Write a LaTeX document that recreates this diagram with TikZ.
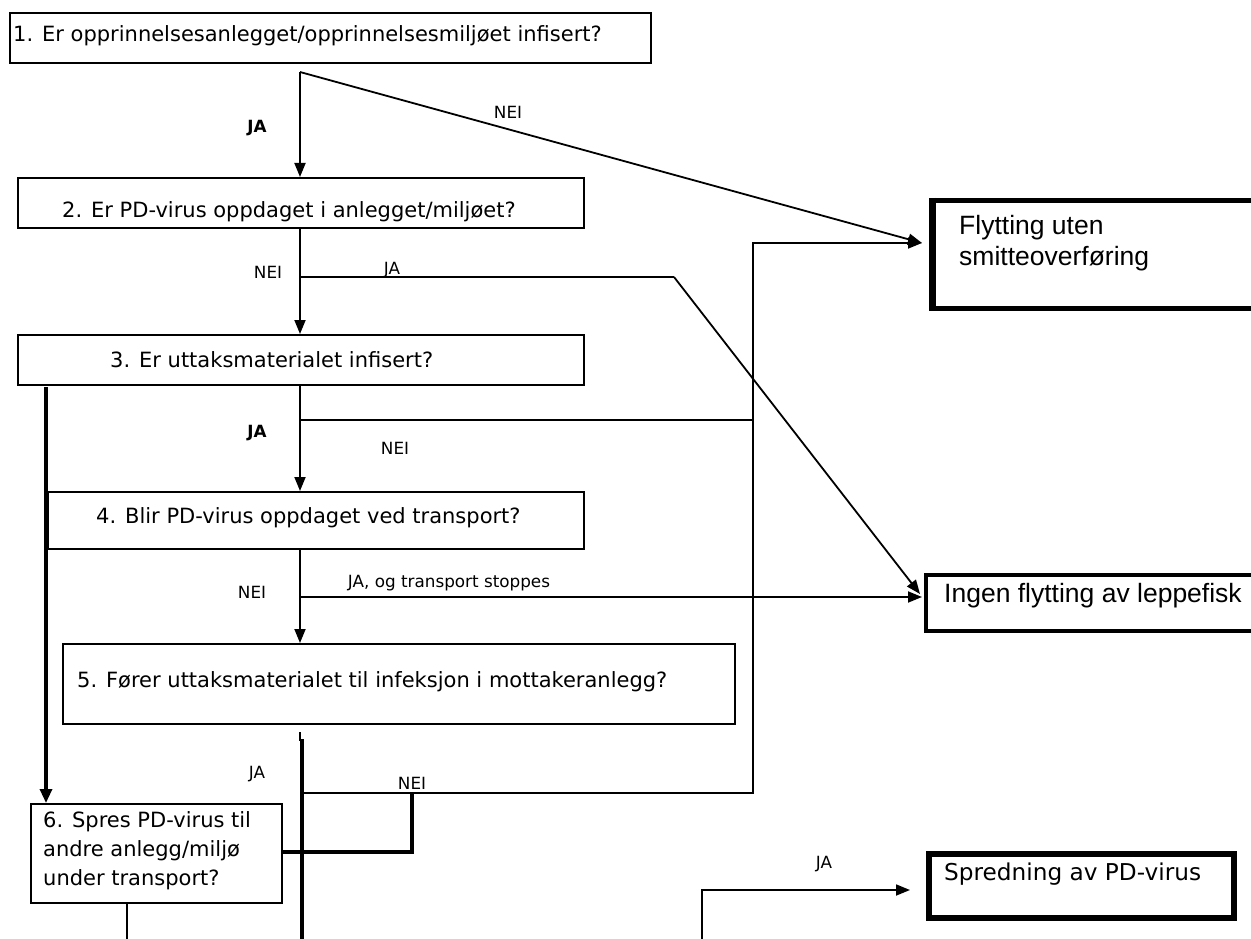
\documentclass[tikz,border=0pt]{standalone}
\usepackage{fontspec}
\setmainfont{DejaVu Sans}
\newfontfamily\arialfont{Liberation Sans}
\usetikzlibrary{arrows.meta}
\tikzset{
  box/.style={draw, line width=1.8pt, inner sep=0pt, anchor=north west},
  qtext/.style={inner sep=0pt, anchor=west, font=\fontsize{21}{25}\selectfont},
  lbl/.style={inner sep=0pt, font=\fontsize{16.8}{20}\selectfont},
  blbl/.style={inner sep=0pt, font=\fontsize{16.8}{20}\selectfont\bfseries},
  conn/.style={line width=1.8pt},
  thickconn/.style={line width=3.2pt},
  arr/.style={conn, -{Triangle[length=14pt,width=11pt]}},
  thickarr/.style={thickconn, -{Triangle[length=14pt,width=12pt]}},
}
\begin{document}
\begin{tikzpicture}[x=1pt,y=-1pt]
\useasboundingbox (0,0) rectangle (1251,939);
\clip (0,0) rectangle (1251,939);
% boxes
\node[box, minimum width=641, minimum height=50] (q1) at (9,12) {};
\node[box, minimum width=566, minimum height=50] (q2) at (17,177) {};
\node[box, minimum width=566, minimum height=50] (q3) at (17,334) {};
\node[box, minimum width=536, minimum height=57] (q4) at (47,491) {};
\node[box, minimum width=672, minimum height=80] (q5) at (62,643) {};
\node[box, minimum width=251, minimum height=99] (q6) at (30,803) {};
\node[box, line width=4.5pt, minimum width=343, minimum height=108] (fl) at (929,198) {};
\node[box, line width=3.5pt, minimum width=348, minimum height=56] (ing) at (924,573) {};
\node[box, line width=6pt, minimum width=305, minimum height=64] (spr) at (926,851) {};
\draw[line width=1.4pt] (fl.north west) ++(6,0) coordinate (flA) -- (flA |- fl.south);
% texts
\node[qtext] (t1) at (13,36) {1. Er opprinnelsesanlegget/opprinnelsesmiljøet infisert?};
\node[qtext] (t2) at (62,212) {2. Er PD-virus oppdaget i anlegget/miljøet?};
\node[qtext] (t3) at (110,360) {3. Er uttaksmaterialet infisert?};
\node[qtext] (t4) at (96,518) {4. Blir PD-virus oppdaget ved transport?};
\node[qtext] (t5) at (77,682) {5. Fører uttaksmaterialet til infeksjon i mottakeranlegg?};
\node[qtext, align=left, font=\fontsize{21}{29}\selectfont] (t6) at (43,851) {6. Spres PD-virus til\\andre anlegg/miljø\\under transport?};
\node[inner sep=0pt, anchor=west, align=left, font=\arialfont\fontsize{26.5}{30.5}\selectfont] (tfl) at (959,243) {Flytting uten\\smitteoverføring};
\node[inner sep=0pt, anchor=west, font=\arialfont\fontsize{26.5}{30}\selectfont] (ting) at (944,596) {Ingen flytting av leppefisk};
\node[inner sep=0pt, anchor=west, font=\fontsize{23.2}{27}\selectfont] (tspr) at (944,874) {Spredning av PD-virus};
% labels
\node[blbl] (l1) at (257,128) {JA};
\node[lbl] (l2) at (508,112) {NEI};
\node[lbl] (l3) at (268,272) {NEI};
\node[lbl] (l4) at (392,270) {JA};
\node[blbl] (l5) at (257,433) {JA};
\node[lbl] (l6) at (395,448) {NEI};
\node[lbl] (l7) at (252,592) {NEI};
\node[lbl] (l8) at (449,583) {JA, og transport stoppes};
\node[lbl] (l9) at (257,774) {JA};
\node[lbl] (l10) at (412,783) {NEI};
\node[lbl] (l11) at (824,864) {JA};
% coordinates
\coordinate (b1) at (300,72);
\coordinate (flin) at (922,243);
\coordinate (b2) at (300,277);
\coordinate (b2r) at (674,277);
\coordinate (ingA) at (920,594);
\coordinate (b3) at (300,420);
\coordinate (rtop) at (753,243);
\coordinate (rbot) at (753,793);
\coordinate (b4) at (300,597);
\coordinate (ingB) at (922,597);
\coordinate (s5a) at (300,732);
\coordinate (s5b) at (300,741);
\coordinate (v5a) at (302,739);
\coordinate (v5b) at (302,945);
\coordinate (b5) at (302,793);
\coordinate (n5) at (412,793);
\coordinate (n5b) at (412,852);
\coordinate (lt) at (46,387);
\coordinate (q6b) at (127,945);
\coordinate (ja0) at (702,945);
\coordinate (ja1) at (702,890);
\coordinate (spin) at (910,890);
% connectors
\draw[arr] (b1) -- (b1 |- q2.north);
\draw[arr] (b1) -- (flin);
\draw[arr] (b1 |- q2.south) -- (b1 |- q3.north);
\draw[conn] (b2) -- (b2r);
\draw[arr] (b2r) -- (ingA);
\draw[arr] (b1 |- q3.south) -- (b1 |- q4.north);
\draw[conn] (b3) -- (b3 -| rtop);
\draw[arr] (b5) -- (rbot) -- (rtop) -- (flin);
\draw[arr] (b1 |- q4.south) -- (b1 |- q5.north);
\draw[arr] (b4) -- (ingB);
\draw[conn] (s5a) -- (s5b);
\draw[thickconn] (v5a) -- (v5b);
\draw[thickconn] (n5) -- (n5b) -- (n5b -| q6.east);
\draw[thickarr] (lt) -- (lt |- q6.north);
\draw[conn] (q6b |- q6.south) -- (q6b);
\draw[arr] (ja0) -- (ja1) -- (spin);
\end{tikzpicture}
\end{document}
